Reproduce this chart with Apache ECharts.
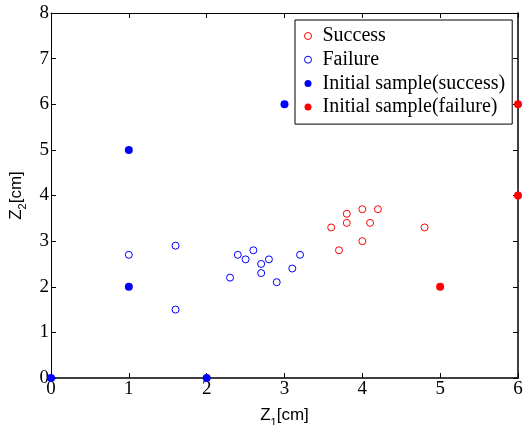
<!DOCTYPE html>
<html><head><meta charset="utf-8">
<script src="https://cdn.jsdelivr.net/npm/echarts@6/dist/echarts.min.js"></script>
<style>html,body{margin:0;padding:0;background:#fff}#c{width:523px;height:425px}</style>
</head><body><div id="c"></div>
<script>
const seriesNames = ['Success', 'Failure', 'Initial sample(success)', 'Initial sample(failure)'];
const successPts = [[3.6,3.3],[3.7,2.8],[3.8,3.6],[3.8,3.4],[4.0,3.7],[4.0,3.0],[4.1,3.4],[4.2,3.7],[4.8,3.3]];
const failurePts = [[1.0,2.7],[1.6,2.9],[1.6,1.5],[2.3,2.2],[2.4,2.7],[2.5,2.6],[2.6,2.8],[2.7,2.5],[2.7,2.3],[2.8,2.6],[2.9,2.1],[3.1,2.4],[3.2,2.7]];
const initSuccessPts = [[0,0],[2,0],[1,2],[1,5],[3,6]];
const initFailurePts = [[5,2],[6,4],[6,6]];
const xTicks = [0,1,2,3,4,5,6];
const yTicks = [0,1,2,3,4,5,6,7,8];

const serif = 'Liberation Serif';
const sans = 'Liberation Sans';
function axisStyle(w) {
  return {
    axisLine: {show: true, onZero: false, lineStyle: {color: '#000', width: w}},
    axisTick: {show: true, inside: true, length: 5, lineStyle: {color: '#000', width: 1}},
    splitLine: {show: false}
  };
}
const nameRich = {
  a: {fontFamily: sans, fontSize: 17, color: '#000'},
  s: {fontFamily: sans, fontSize: 11, color: '#000', verticalAlign: 'bottom', padding: [14, 0, 0, 0]}
};
const chart = echarts.init(document.getElementById('c'));
chart.setOption({
  animation: false,
  backgroundColor: '#fff',
  grid: {left: 51, right: 5, top: 13, bottom: 47, containLabel: false, outerBoundsMode: 'none'},
  legend: {
    orient: 'vertical', left: 295, top: 20,
    backgroundColor: '#fff', borderColor: '#000', borderWidth: 1, borderRadius: 0,
    padding: [6, 7, 7, 9], itemGap: 3.7, itemWidth: 7, itemHeight: 7,
    textStyle: {fontFamily: serif, fontSize: 20, color: '#000', lineHeight: 20, padding: [0, 0, 0, 6]},
    data: [
      {name: seriesNames[0], icon: 'circle', itemStyle: {color: '#fff', borderColor: '#ff0000', borderWidth: 1}},
      {name: seriesNames[1], icon: 'circle', itemStyle: {color: '#fff', borderColor: '#0000ff', borderWidth: 1}},
      {name: seriesNames[2], icon: 'circle', itemStyle: {color: '#0000ff', borderWidth: 0}},
      {name: seriesNames[3], icon: 'circle', itemStyle: {color: '#ff0000', borderWidth: 0}}
    ]
  },
  xAxis: [
    Object.assign({
      type: 'value', min: 0, max: 6, interval: 1, position: 'bottom',
      axisLabel: {fontFamily: serif, fontSize: 19, color: '#000', margin: 2, customValues: xTicks},
      name: '{a|Z}{s|1}{a|[cm]}', nameLocation: 'middle', nameGap: 25,
      nameTextStyle: {rich: nameRich}
    }, axisStyle(1.5)),
    Object.assign({type: 'value', min: 0, max: 6, interval: 1, position: 'top', axisLabel: {show: false}}, axisStyle(1))
  ],
  yAxis: [
    Object.assign({
      type: 'value', min: 0, max: 8, interval: 1, position: 'left',
      axisLabel: {fontFamily: serif, fontSize: 19, color: '#000', margin: 2, customValues: yTicks},
      name: '{a|Z}{s|2}{a|[cm]}', nameLocation: 'middle', nameGap: 20, nameRotate: 90,
      nameTextStyle: {rich: nameRich}
    }, axisStyle(1)),
    Object.assign({type: 'value', min: 0, max: 8, interval: 1, position: 'right', axisLabel: {show: false}}, axisStyle(1.5))
  ],
  series: [
    {name: seriesNames[0], type: 'scatter', data: successPts, symbol: 'circle', symbolSize: 7, clip: false,
     itemStyle: {color: '#fff', borderColor: '#ff0000', borderWidth: 1, opacity: 1}},
    {name: seriesNames[1], type: 'scatter', data: failurePts, symbol: 'circle', symbolSize: 7, clip: false,
     itemStyle: {color: '#fff', borderColor: '#0000ff', borderWidth: 1, opacity: 1}},
    {name: seriesNames[2], type: 'scatter', data: initSuccessPts, symbol: 'circle', symbolSize: 8, clip: false, z: 5,
     itemStyle: {color: '#0000ff', opacity: 1}},
    {name: seriesNames[3], type: 'scatter', data: initFailurePts, symbol: 'circle', symbolSize: 8, clip: false, z: 5,
     itemStyle: {color: '#ff0000', opacity: 1}}
  ]
});
</script></body></html>
